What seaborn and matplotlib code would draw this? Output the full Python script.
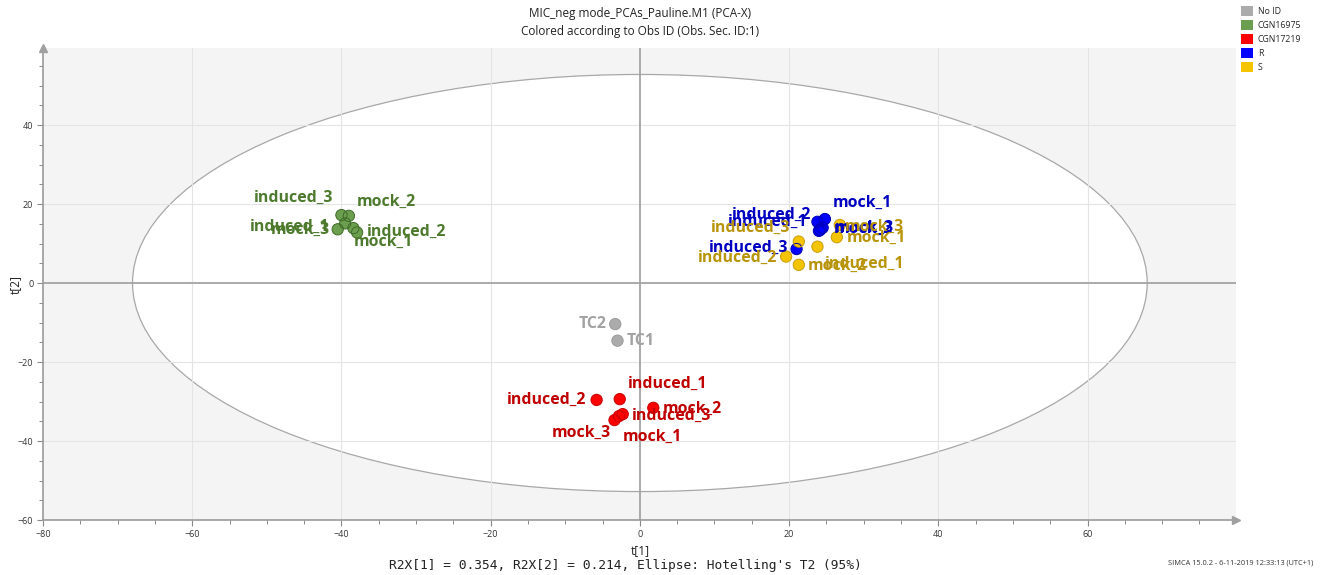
import matplotlib
matplotlib.use("Agg")
import matplotlib.pyplot as plt
from matplotlib.patches import Ellipse, Patch
import numpy as np
import pandas as pd
import seaborn as sns

# --- scores (t[1], t[2]) per observation -----------------------------------
group_names = ["No ID", "CGN16975", "CGN17219", "R", "S"]

obs_labels = [
    "TC2", "TC1",
    "induced_3", "mock_2", "induced_1", "mock_3", "induced_2", "mock_1",
    "induced_2", "induced_1", "mock_2", "induced_3", "mock_1", "mock_3",
    "mock_1", "induced_2", "mock_3", "induced_1", "mock_2", "induced_3",
    "mock_3", "mock_1", "induced_3", "induced_1", "induced_2", "mock_2",
]
obs_groups = (["No ID"] * 2 + ["CGN16975"] * 6 + ["CGN17219"] * 6
              + ["R"] * 6 + ["S"] * 6)
t1 = [
    -3.3, -3.0,
    -40.0, -39.0, -39.5, -40.5, -37.9, -38.4,
    -5.8, -2.7, 1.8, -2.3, -2.8, -3.4,
    24.8, 23.8, 24.5, 24.0, 24.2, 21.0,
    26.8, 26.4, 21.3, 23.8, 19.6, 21.3,
]
t2 = [
    -10.4, -14.6,
    17.2, 17.0, 15.1, 13.6, 12.8, 13.9,
    -29.6, -29.4, -31.6, -33.2, -33.7, -34.7,
    16.2, 15.5, 14.0, 13.2, 13.5, 8.6,
    14.7, 11.6, 10.5, 9.2, 6.7, 4.6,
]

r2x = [0.354, 0.214]
ellipse_semi_axes = [68.0, 52.8]   # Hotelling's T2 (95%)

# --- styling -----------------------------------------------------------------
fill_colors = {"No ID": "#ababab", "CGN16975": "#6b9f4f", "CGN17219": "#ff0000",
               "R": "#0000ff", "S": "#f5c400"}
edge_colors = {"No ID": "#9a9a9a", "CGN16975": "#3f6a27", "CGN17219": "#c80000",
               "R": "#0000b4", "S": "#c89e00"}
text_colors = {"No ID": "#a2a2a2", "CGN16975": "#4d7a2d", "CGN17219": "#c00000",
               "R": "#0000c0", "S": "#b8940a"}

# label placement next to each marker: (dx px, dy px, horizontal alignment)
label_offsets = [
    (-8.6, 0, "right"), (9, 0, "left"),
    (-8.4, 17, "right"), (7.4, 14.3, "left"), (-15.7, -3.4, "right"),
    (-7.7, -0.7, "right"), (9.4, 0.6, "left"), (0, -13.6, "left"),
    (-10, 0, "right"), (8.3, 15.7, "left"), (9.7, -0.6, "left"),
    (9, -1.4, "left"), (4, -20.7, "left"), (-3.3, -12.7, "right"),
    (7.7, 15.7, "left"), (-6, 6.7, "right"), (12.3, -0.6, "left"),
    (-11.3, 9.3, "right"), (13.7, 0.7, "left"), (-8.4, 0.7, "right"),
    (5, -1.7, "left"), (10, -0.4, "left"), (-8.3, 14, "right"),
    (7.3, -17.6, "left"), (-9.3, -1, "right"), (9.3, -0.7, "left"),
]

df = pd.DataFrame({"label": obs_labels, "group": obs_groups, "t1": t1, "t2": t2})

sns.set_theme(style="white")
plt.rcParams["font.family"] = ["Open Sans", "DejaVu Sans"]

fig = plt.figure(figsize=(13.2, 5.75), dpi=100)
ax = fig.add_axes([43 / 1320, 55 / 575, (1236 - 43) / 1320, (520 - 48) / 575])
ax.set_facecolor("#f4f4f4")

x_lo, x_hi = -80, 79.9
y_lo, y_hi = -60, 59.5
ax.set_xlim(x_lo, x_hi)
ax.set_ylim(y_lo, y_hi)

# confidence ellipse: white interior on the grey plot area
ax.add_patch(Ellipse((0, 0), 2 * ellipse_semi_axes[0], 2 * ellipse_semi_axes[1],
                     facecolor="white", edgecolor="#a8a8a8", lw=0.9, zorder=0.2))

# grid
for gx in range(-60, 80, 20):
    if gx != 0:
        ax.axvline(gx, color="#e4e4e4", lw=0.8, zorder=0.3)
for gy in range(-40, 60, 20):
    if gy != 0:
        ax.axhline(gy, color="#e4e4e4", lw=0.8, zorder=0.3)
ax.axvline(0, color="#a4a4a4", lw=1.3, zorder=0.4)
ax.axhline(0, color="#a4a4a4", lw=1.3, zorder=0.4)

sns.scatterplot(data=df, x="t1", y="t2", hue="group", hue_order=group_names,
                palette=fill_colors, s=66, linewidth=0, legend=False,
                ax=ax, zorder=3)
# marker outlines per group
for g in group_names:
    sub = df[df["group"] == g]
    ax.scatter(sub["t1"], sub["t2"], s=66, facecolors="none",
               edgecolors=edge_colors[g], linewidths=0.7, zorder=3.1)

px2pt = 0.72
for i, row in df.iterrows():
    dx, dy, ha = label_offsets[i]
    ax.annotate(row["label"], (row["t1"], row["t2"]),
                xytext=(dx * px2pt, dy * px2pt), textcoords="offset points",
                ha=ha, va="center", fontsize=11.4, fontweight="bold",
                color=text_colors[row["group"]], zorder=4)

# axes, ticks
for side in ["top", "right"]:
    ax.spines[side].set_visible(False)
for side in ["left", "bottom"]:
    ax.spines[side].set_color("#9a9a9a")
    ax.spines[side].set_linewidth(1.2)
ax.plot([1.0], [0], marker=">", color="#a0a0a0", ms=6, transform=ax.transAxes,
        clip_on=False, zorder=5)
ax.plot([0], [1.0], marker="^", color="#a0a0a0", ms=6, transform=ax.transAxes,
        clip_on=False, zorder=5)

ax.set_xticks(np.arange(-80, 61, 20))
ax.set_xticks(np.arange(-80, 80, 5), minor=True)
ax.set_yticks(np.arange(-60, 41, 20))
ax.set_yticks(np.arange(-60, 59, 5), minor=True)
ax.tick_params(axis="both", which="major", direction="out", length=4, width=0.8,
               color="#8a8a8a", labelsize=6.5, labelcolor="#333333", pad=3,
               bottom=True, left=True)
ax.tick_params(axis="both", which="minor", direction="out", length=3, width=0.7,
               color="#8a8a8a", bottom=True, left=True)
ax.grid(False)
ax.set_xlabel("")
ax.set_ylabel("")

fig.text(640 / 1320, 1 - 551 / 575, "t[1]", ha="center", va="center",
         fontsize=8.5, color="#222222")
fig.text(15 / 1320, 1 - 285 / 575, "t[2]", ha="center", va="center",
         rotation=90, fontsize=8.5, color="#222222")

fig.text(0.4848, 1 - 13 / 575, "MIC_neg mode_PCAs_Pauline.M1 (PCA-X)",
         ha="center", va="center", fontsize=8.5, color="#222222")
fig.text(0.4848, 1 - 31 / 575, "Colored according to Obs ID (Obs. Sec. ID:1)",
         ha="center", va="center", fontsize=8.5, color="#222222")

fig.text(625 / 1320, 1 - 566 / 575,
         f"R2X[1] = {r2x[0]:.3f}, R2X[2] = {r2x[1]:.3f}, Ellipse: Hotelling's T2 (95%)",
         ha="center", va="center", fontsize=9.3, family="DejaVu Sans Mono",
         color="#222222")
fig.text(1313 / 1320, 1 - 563 / 575, "SIMCA 15.0.2 - 6-11-2019 12:33:13 (UTC+1)",
         ha="right", va="center", fontsize=5.3, color="#333333")

handles = [Patch(facecolor=fill_colors[g], edgecolor="none") for g in group_names]
fig.legend(handles, group_names, loc="upper left",
           bbox_to_anchor=(1239 / 1320, 1 - 4 / 575), frameon=False,
           fontsize=6.3, handlelength=1.45, handleheight=1.45, handletextpad=0.5,
           labelspacing=0.42, borderpad=0.2, borderaxespad=0)

fig.savefig("out.png", dpi=100)
